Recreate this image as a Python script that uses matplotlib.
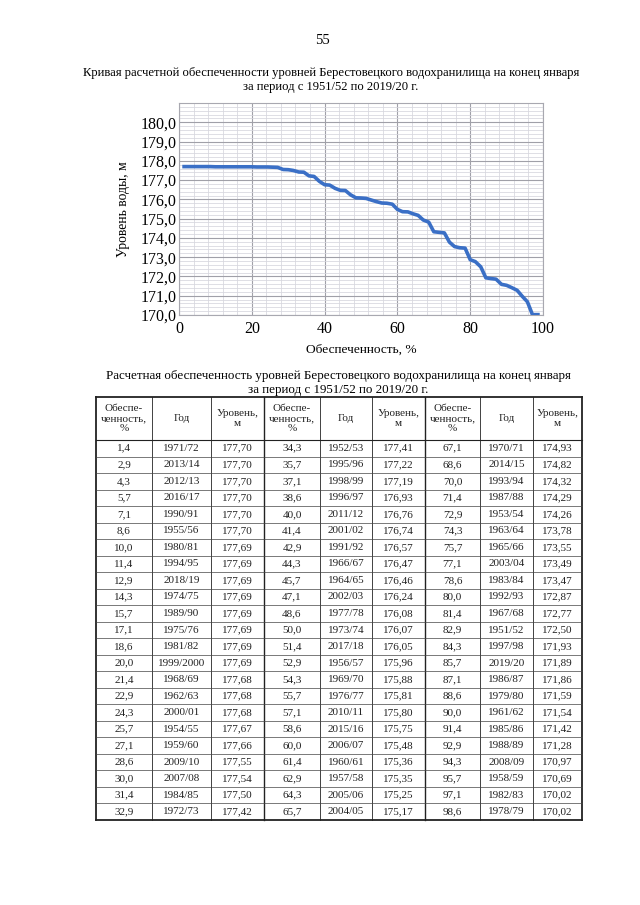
import matplotlib.pyplot as plt
from matplotlib.ticker import MultipleLocator, FuncFormatter

plt.rcParams['font.family'] = ['Liberation Serif', 'DejaVu Serif']

# обеспеченность, %, год, уровень (три блока таблицы)
p1 = [1.4, 2.9, 4.3, 5.7, 7.1, 8.6, 10.0, 11.4, 12.9, 14.3, 15.7, 17.1,
      18.6, 20.0, 21.4, 22.9, 24.3, 25.7, 27.1, 28.6, 30.0, 31.4, 32.9]
y1 = ["1971/72", "2013/14", "2012/13", "2016/17", "1990/91", "1955/56",
      "1980/81", "1994/95", "2018/19", "1974/75", "1989/90", "1975/76",
      "1981/82", "1999/2000", "1968/69", "1962/63", "2000/01", "1954/55",
      "1959/60", "2009/10", "2007/08", "1984/85", "1972/73"]
l1 = [177.70, 177.70, 177.70, 177.70, 177.70, 177.70, 177.69, 177.69,
      177.69, 177.69, 177.69, 177.69, 177.69, 177.69, 177.68, 177.68,
      177.68, 177.67, 177.66, 177.55, 177.54, 177.50, 177.42]

p2 = [34.3, 35.7, 37.1, 38.6, 40.0, 41.4, 42.9, 44.3, 45.7, 47.1, 48.6, 50.0,
      51.4, 52.9, 54.3, 55.7, 57.1, 58.6, 60.0, 61.4, 62.9, 64.3, 65.7]
y2 = ["1952/53", "1995/96", "1998/99", "1996/97", "2011/12", "2001/02",
      "1991/92", "1966/67", "1964/65", "2002/03", "1977/78", "1973/74",
      "2017/18", "1956/57", "1969/70", "1976/77", "2010/11", "2015/16",
      "2006/07", "1960/61", "1957/58", "2005/06", "2004/05"]
l2 = [177.41, 177.22, 177.19, 176.93, 176.76, 176.74, 176.57, 176.47,
      176.46, 176.24, 176.08, 176.07, 176.05, 175.96, 175.88, 175.81,
      175.80, 175.75, 175.48, 175.36, 175.35, 175.25, 175.17]

p3 = [67.1, 68.6, 70.0, 71.4, 72.9, 74.3, 75.7, 77.1, 78.6, 80.0, 81.4, 82.9,
      84.3, 85.7, 87.1, 88.6, 90.0, 91.4, 92.9, 94.3, 95.7, 97.1, 98.6]
y3 = ["1970/71", "2014/15", "1993/94", "1987/88", "1953/54", "1963/64",
      "1965/66", "2003/04", "1983/84", "1992/93", "1967/68", "1951/52",
      "1997/98", "2019/20", "1986/87", "1979/80", "1961/62", "1985/86",
      "1988/89", "2008/09", "1958/59", "1982/83", "1978/79"]
l3 = [174.93, 174.82, 174.32, 174.29, 174.26, 173.78, 173.55, 173.49,
      173.47, 172.87, 172.77, 172.50, 171.93, 171.89, 171.86, 171.59,
      171.54, 171.42, 171.28, 170.97, 170.69, 170.02, 170.02]

page_no = "55"
chart_title = ("Кривая расчетной обеспеченности уровней Берестовецкого водохранилища на конец января\n"
               "за период с 1951/52 по 2019/20 г.")
table_title = ("Расчетная обеспеченность уровней Берестовецкого водохранилища на конец января\n"
               "за период с 1951/52 по 2019/20 г.")
headers = ["Обеспе-\nченность,\n%", "Год", "Уровень,\nм"]


def comma(v, n):
    return f"{v:.{n}f}".replace('.', ',')


W, H = 640, 905
fig = plt.figure(figsize=(W / 100, H / 100), dpi=100)
fig.patch.set_facecolor('white')

# page overlay in pixel coordinates
pg = fig.add_axes([0, 0, 1, 1])
pg.set_xlim(0, W)
pg.set_ylim(H, 0)
pg.axis('off')
pg.patch.set_visible(False)

pg.text(322, 40, page_no, ha='center', va='center', fontsize=10.5)
pg.text(331, 80, chart_title, ha='center', va='center', fontsize=9.1,
        linespacing=1.2)

# chart
ax = fig.add_axes([179 / W, 1 - 315 / H, (543 - 179) / W, (315 - 103) / H])
ax.plot(p1 + p2 + p3, l1 + l2 + l3, color='#3a6fc6', lw=2.6,
        solid_joinstyle='round', zorder=3)
ax.set_xlim(0, 100)
ax.set_ylim(170, 181)
ax.xaxis.set_major_locator(MultipleLocator(20))
ax.xaxis.set_minor_locator(MultipleLocator(4))
ax.yaxis.set_major_locator(MultipleLocator(1))
ax.yaxis.set_minor_locator(MultipleLocator(0.2))
ax.set_yticks([170 + i for i in range(11)])
ax.yaxis.set_major_formatter(FuncFormatter(lambda v, _: comma(v, 1)))
ax.grid(which='major', color='#a0a0a8', lw=0.8)
ax.grid(which='minor', color='#d6d6de', lw=0.55)
ax.tick_params(which='both', length=0, labelsize=11.5)
ax.tick_params(axis='y', pad=2)
ax.tick_params(axis='x', pad=4)
for s in ax.spines.values():
    s.set_color('#a8a8b0')
    s.set_linewidth(0.8)
ax.set_xlabel("Обеспеченность, %", fontsize=9.6, labelpad=5)
ax.set_ylabel("Уровень воды, м", fontsize=9.8, labelpad=7)

# table
pg.text(338, 383, table_title, ha='center', va='center', fontsize=9.4,
        linespacing=1.15)

cols = [96, 152, 211, 264, 320, 372, 425, 480, 533, 582]
top, hdr_bot, bot = 397, 440, 820
nrows = len(p1)
rh = (bot - hdr_bot) / nrows

for i, x in enumerate(cols):
    lw = 1.3 if i in (0, len(cols) - 1) else (1.0 if i in (3, 6) else 0.6)
    pg.plot([x, x], [top, bot], color='#222222', lw=lw)
pg.plot([cols[0], cols[-1]], [top, top], color='#222222', lw=1.3)
pg.plot([cols[0], cols[-1]], [bot, bot], color='#222222', lw=1.3)
pg.plot([cols[0], cols[-1]], [hdr_bot, hdr_bot], color='#222222', lw=0.8)
for r in range(1, nrows):
    yy = hdr_bot + r * rh
    pg.plot([cols[0], cols[-1]], [yy, yy], color='#444444', lw=0.5)

for g in range(3):
    for c in range(3):
        k = g * 3 + c
        xc = (cols[k] + cols[k + 1]) / 2
        pg.text(xc, (top + hdr_bot) / 2, headers[c], ha='center',
                va='center', fontsize=8, linespacing=1.1, color='#222222')

groups = [(p1, y1, l1), (p2, y2, l2), (p3, y3, l3)]
for g, (pp, yy_, ll) in enumerate(groups):
    for r in range(nrows):
        yc = hdr_bot + (r + 0.5) * rh
        vals = [comma(pp[r], 1), yy_[r], comma(ll[r], 2)]
        for c in range(3):
            k = g * 3 + c
            xc = (cols[k] + cols[k + 1]) / 2
            pg.text(xc, yc, vals[c], ha='center', va='center',
                    fontsize=8, color='#222222')

fig.savefig('out.png', dpi=100)
